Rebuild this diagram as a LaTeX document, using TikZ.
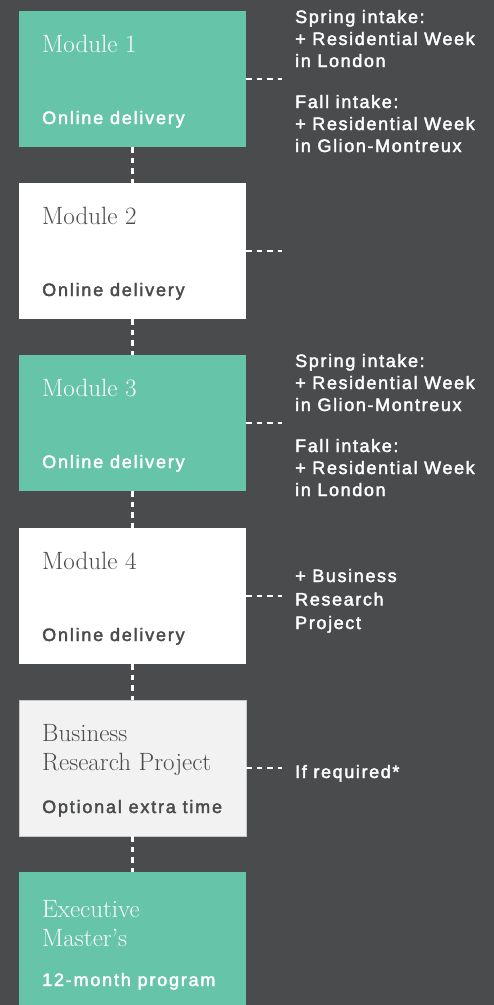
\documentclass[tikz,border=0pt]{standalone}
\usepackage{fontspec}
\usetikzlibrary{calc}
\newfontfamily\subT[LetterSpace=10,FakeBold=2.2]{Liberation Sans}
\newfontfamily\sideT[LetterSpace=9,FakeBold=2.2]{Liberation Sans}
\definecolor{bg}{HTML}{4A4B4D}
\definecolor{grn}{HTML}{66C4A9}
\definecolor{lgray}{HTML}{F2F2F2}
\definecolor{lborder}{HTML}{C8C8C8}
\definecolor{dtext}{HTML}{4A4B4D}
\begin{document}
\begin{tikzpicture}[x=1pt,y=-1pt,
  box/.style={minimum width=227pt, minimum height=136pt, inner sep=0pt, outer sep=0pt, anchor=north west, draw=none},
  greenbox/.style={box, fill=grn},
  whitebox/.style={box, fill=white},
  graybox/.style={box, fill=lgray, draw=lborder, line width=0.8pt},
  head/.style={anchor=base west, inner sep=0pt, font=\fontsize{25}{29}\selectfont},
  sub/.style={anchor=base west, inner sep=0pt, font=\subT\fontsize{18}{22}\selectfont},
  side/.style={anchor=base west, inner sep=0pt, text=white, font=\sideT\fontsize{18}{22}\selectfont},
  dotline/.style={draw=white, line width=2.4pt, dash pattern=on 5.5pt off 5pt}
]
\fill[bg] (0,0) rectangle (494,1005);
\useasboundingbox (0,0) rectangle (494,1005);

% boxes
\node[greenbox] (m1) at (19,11) {};
\node[whitebox] (m2) at (19,183) {};
\node[greenbox] (m3) at (19,355) {};
\node[whitebox] (m4) at (19,528) {};
\node[graybox] (brp) at (19,700) {};
\node[greenbox, minimum height=133pt] (em) at (19,872) {};

% box texts
\node[head, text=white] (m1h) at ($(m1.north west)+(23,41)$) {Module 1};
\node[sub, text=white] (m1s) at ($(m1.south west)+(23,-23)$) {Online delivery};
\node[head, text=dtext] (m2h) at ($(m2.north west)+(23,41)$) {Module 2};
\node[sub, text=dtext] (m2s) at ($(m2.south west)+(23,-23)$) {Online delivery};
\node[head, text=white] (m3h) at ($(m3.north west)+(23,41)$) {Module 3};
\node[sub, text=white] (m3s) at ($(m3.south west)+(23,-23)$) {Online delivery};
\node[head, text=dtext] (m4h) at ($(m4.north west)+(23,41)$) {Module 4};
\node[sub, text=dtext] (m4s) at ($(m4.south west)+(23,-23)$) {Online delivery};
\node[head, text=dtext] (brph) at ($(brp.north west)+(23,41)$) {\parbox[t]{215pt}{\raggedright Business\\Research Project}};
\node[sub, text=dtext] (brps) at ($(brp.south west)+(23,-23)$) {Optional extra time};
\node[head, text=white] (emh) at ($(em.north west)+(23,45)$) {\parbox[t]{215pt}{\raggedright Executive\\Master’s}};
\node[sub, text=white] (ems) at ($(em.north west)+(23,114)$) {12-month program};

% side texts
\node[side] (s1) at (295,23) {\parbox[t]{199pt}{\raggedright Spring intake:\\+ Residential Week\\in London\\[19pt]Fall intake:\\+ Residential Week\\in Glion-Montreux}};
\node[side] (s3) at (295,367) {\parbox[t]{199pt}{\raggedright Spring intake:\\+ Residential Week\\in Glion-Montreux\\[19pt]Fall intake:\\+ Residential Week\\in London}};
\node[side] (s4) at (295,582) {\parbox[t]{199pt}{\fontsize{18}{23.5}\selectfont\raggedright + Business\\Research\\Project}};
\node[side] (s5) at (295,778) {If required*};

% vertical connectors
\draw[dotline] (m1.south) -- (m2.north);
\draw[dotline] (m2.south) -- (m3.north);
\draw[dotline] (m3.south) -- (m4.north);
\draw[dotline] (m4.south) -- (brp.north);
\draw[dotline] (brp.south) -- (em.north);

% horizontal connectors
\draw[dotline] (m1.east) -- ($(m1.east)+(36,0)$);
\draw[dotline] (m2.east) -- ($(m2.east)+(36,0)$);
\draw[dotline] (m3.east) -- ($(m3.east)+(36,0)$);
\draw[dotline] (m4.east) -- ($(m4.east)+(36,0)$);
\draw[dotline] (brp.east) -- ($(brp.east)+(36,0)$);
\end{tikzpicture}
\end{document}
